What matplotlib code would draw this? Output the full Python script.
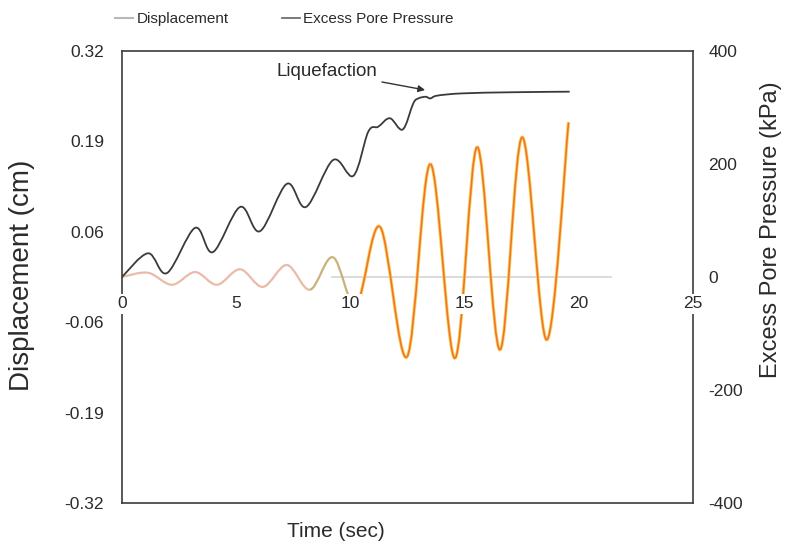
import numpy as np
import matplotlib
matplotlib.use('Agg')
import matplotlib.pyplot as plt
from matplotlib.path import Path
from matplotlib.patches import PathPatch
from matplotlib.lines import Line2D
from matplotlib.ticker import FormatStrFormatter

plt.rcParams['font.family'] = ['Liberation Sans', 'DejaVu Sans']
plt.rcParams['axes.unicode_minus'] = False

# displacement (cm) - peaks / troughs
time_disp = [0, 1.14, 2.19, 3.2, 4.16, 5.17, 6.17, 7.22, 8.23, 9.24, 10.25,
             11.3, 12.48, 13.5, 14.58, 15.55, 16.55, 17.52, 18.6, 19.55]
disp = [0, 0.006, -0.011, 0.007, -0.011, 0.011, -0.014, 0.017, -0.018, 0.028, -0.04,
        0.071, -0.113, 0.160, -0.115, 0.184, -0.103, 0.198, -0.089, 0.219]

# excess pore pressure (kPa)
time_pp = [0, 1.14, 1.97, 3.2, 3.98, 5.17, 6.04, 7.22, 8.06, 9.24, 10.13, 10.78,
           11.22, 11.73, 12.29, 12.75, 12.97, 13.3, 13.5, 13.8, 14.9, 17.1, 19.6]
pp = [0, 42, 7, 87, 44, 124, 81, 165, 124, 207, 179, 257,
      266, 281, 261, 307, 316, 319, 316, 321, 325, 327, 328]

zero_ref_t = [9.2, 21.4]
time_ticks = [0, 5, 10, 15, 20, 25]
disp_ticks = [-0.32, -0.192, -0.064, 0.064, 0.192, 0.32]
pp_ticks = [-400, -200, 0, 200, 400]
liq_point = (13.27, 331)
liq_text = (11.2, 363)

TXT = '#2b2b2b'


def smooth_segments(t, v):
    # excel-like smoothed line: one cubic bezier per pair of points
    pts = np.column_stack([t, v]).astype(float)
    n = len(pts)
    segs = []
    for i in range(n - 1):
        p0 = pts[i - 1] if i > 0 else pts[i]
        p1, p2 = pts[i], pts[i + 1]
        p3 = pts[i + 2] if i + 2 < n else pts[i + 1]
        c1 = p1 + (p2 - p0) / 6
        c2 = p2 - (p3 - p1) / 6
        segs.append((p1[0], Path([p1, c1, c2, p2],
                                 [Path.MOVETO, Path.CURVE4, Path.CURVE4, Path.CURVE4])))
    return segs


fig = plt.figure(figsize=(7.86, 5.5), dpi=100)
ax = fig.add_axes([122/786, 47/550, 571/786, 452/550])
ax2 = ax.twinx()

ax.set_xlim(0, 25)
ax.set_ylim(-0.32, 0.32)
ax2.set_ylim(-400, 400)

ax.plot(zero_ref_t, [0, 0], color='#d4d4d4', lw=1.2, zorder=1)

for t0, path in smooth_segments(time_disp, disp):
    if t0 < 8.2:
        ax.add_patch(PathPatch(path, fill=False, ec='#e9bba8', lw=1.6, zorder=2))
    elif t0 < 10.2:
        ax.add_patch(PathPatch(path, fill=False, ec='#c9b27c', lw=1.6, zorder=2))
    else:
        ax.add_patch(PathPatch(path, fill=False, ec='#f8d45a', lw=2.4, zorder=2))
        ax.add_patch(PathPatch(path, fill=False, ec='#ef7430', lw=1.2, zorder=2.1))

pp_path = Path.make_compound_path(*[p for _, p in smooth_segments(time_pp, pp)])
ax2.add_patch(PathPatch(pp_path, fill=False, ec='#3a3a3a', lw=1.3))

ax2.annotate('Liquefaction', xy=liq_point, xytext=liq_text, ha='right', va='center',
             fontsize=13.5, color=TXT,
             arrowprops=dict(arrowstyle='-|>', color='#333333', lw=1.0,
                             mutation_scale=10, shrinkA=1, shrinkB=0))

# frame
for s in ax.spines.values():
    s.set_color('#3c3c3c')
    s.set_linewidth(1.2)
for s in ax2.spines.values():
    s.set_visible(False)

ax.tick_params(axis='x', bottom=False, labelbottom=False)
ax.set_yticks(disp_ticks)
ax.yaxis.set_major_formatter(FormatStrFormatter('%.2f'))
ax.tick_params(axis='y', length=0, pad=13, labelsize=12.5, labelcolor=TXT)
ax2.set_yticks(pp_ticks)
ax2.tick_params(axis='y', length=0, pad=11, labelsize=12.5, labelcolor=TXT)

# time labels sit just under the zero line, masking the frame
secax = ax.secondary_xaxis(0.5)
secax.set_alignment('bottom')
secax.set_zorder(5)
secax.set_xticks(time_ticks)
secax.tick_params(axis='x', length=0, pad=14, labelsize=12.5, labelcolor=TXT)
for s in secax.spines.values():
    s.set_visible(False)
for lab in secax.get_xticklabels():
    lab.set_bbox(dict(facecolor='white', edgecolor='none', pad=1.5))

ax.set_xlabel('Time (sec)', fontsize=15, color=TXT, va='top')
ax.xaxis.set_label_coords(0.375, -0.042)
ax.set_ylabel('Displacement (cm)', fontsize=20, color=TXT)
ax.yaxis.set_label_coords(-0.152, 0.504)
ax2.set_ylabel('Excess Pore Pressure (kPa)', fontsize=17, color=TXT)
ax2.yaxis.set_label_coords(1.118, 0.604)

handles = [Line2D([], [], color='#b8b8b8', lw=1.5),
           Line2D([], [], color='#6e6e6e', lw=1.3)]
fig.legend(handles, ['Displacement', 'Excess Pore Pressure'], loc='center left',
           bbox_to_anchor=(115/786, 1 - 19/550), ncol=2, frameon=False,
           fontsize=11, handlelength=1.2, handletextpad=0.2, columnspacing=3.5,
           borderpad=0, borderaxespad=0, labelcolor=TXT)

fig.savefig('out.png', dpi=100, facecolor='white')
